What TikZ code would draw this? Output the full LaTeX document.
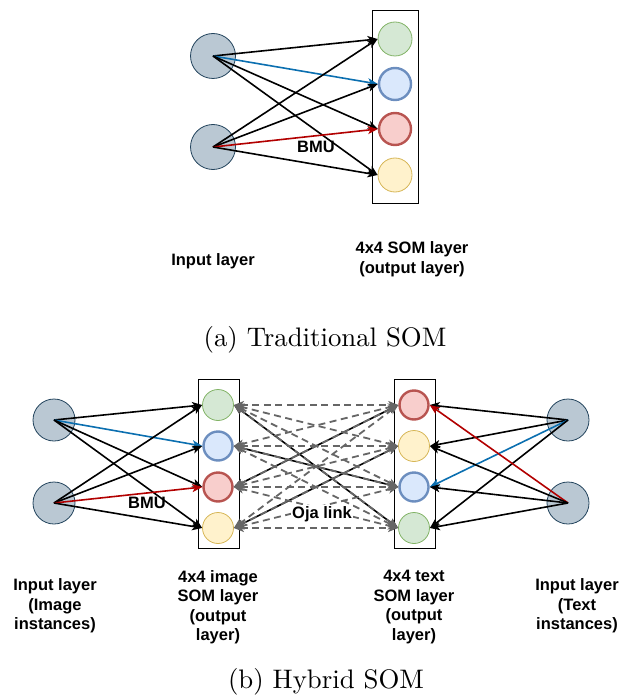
\documentclass[tikz,border=0pt]{standalone}
\usepackage{fontspec}
\newfontfamily\labelfont{Liberation Sans}
\newfontfamily\capfont{lmroman10-regular}[Extension=.otf]
\usetikzlibrary{arrows.meta}

\definecolor{inputfill}{HTML}{BAC8D3}
\definecolor{inputdraw}{HTML}{23445D}
\definecolor{gfill}{HTML}{D5E8D4}
\definecolor{gdraw}{HTML}{82B366}
\definecolor{bfill}{HTML}{DAE8FC}
\definecolor{bdraw}{HTML}{6C8EBF}
\definecolor{rfill}{HTML}{F8CECC}
\definecolor{rdraw}{HTML}{B85450}
\definecolor{yfill}{HTML}{FFF2CC}
\definecolor{ydraw}{HTML}{D6B656}
\definecolor{bluelink}{HTML}{0B6FB0}
\definecolor{redlink}{HTML}{B20000}
\definecolor{ojagray}{HTML}{666666}

\begin{document}
\begin{tikzpicture}[x=1pt,y=-1pt,
  inp/.style={circle, draw=inputdraw, fill=inputfill, line width=0.8pt, inner sep=0pt},
  unitg/.style={circle, draw=gdraw, fill=gfill, line width=0.8pt, inner sep=0pt},
  unitb/.style={circle, draw=bdraw, fill=bfill, line width=2.4pt, inner sep=0pt},
  unitr/.style={circle, draw=rdraw, fill=rfill, line width=2.4pt, inner sep=0pt},
  unity/.style={circle, draw=ydraw, fill=yfill, line width=0.8pt, inner sep=0pt},
  layerbox/.style={draw=black, line width=0.8pt, inner sep=0pt},
  somtip/.tip={Stealth[length=10pt,width=8pt,inset=2.5pt]},
  arr/.style={draw=black, line width=1.6pt, -somtip},
  arrblue/.style={arr, draw=bluelink},
  arrred/.style={arr, draw=redlink},
  crosslink/.style={draw=black, line width=1.6pt, somtip-somtip},
  oja/.style={draw=ojagray, line width=1.8pt, dash pattern=on 7pt off 4.5pt, somtip-somtip},
  lbl/.style={font=\labelfont\bfseries\fontsize{16.5}{19.5}\selectfont, align=center, inner sep=0pt},
  captext/.style={font=\capfont\fontsize{26.8}{30}\selectfont, inner sep=0pt}
]
\useasboundingbox (0,0) rectangle (628,695);

% ---------- (a) Traditional SOM ----------
\node[inp, minimum size=45pt] (a1) at (213,56) {};
\node[inp, minimum size=45pt] (a2) at (213,147) {};
\node[layerbox, minimum width=46pt, minimum height=193pt] (abox) at (395,106.5) {};
\node[unitg, minimum size=34pt] (ag) at (395,39) {};
\node[unitb, minimum size=32pt] (ab) at (395,84) {};
\node[unitr, minimum size=32pt] (ar) at (395,129) {};
\node[unity, minimum size=34pt] (ay) at (395,175) {};

\draw[arr] (a1.center) -- (ag.west);
\draw[arrblue] (a1.center) -- (ab.west);
\draw[arr] (a1.center) -- (ar.west);
\draw[arr] (a1.center) -- (ay.west);
\draw[arr] (a2.center) -- (ag.west);
\draw[arr] (a2.center) -- (ab.west);
\draw[arrred] (a2.center) -- (ar.west);
\draw[arr] (a2.center) -- (ay.west);

\node[lbl] (abmu) at (316,147) {BMU};
\node[lbl] (ain) at (213,261) {Input layer};
\node[lbl] (aout) at (412,259) {4x4 SOM layer\\(output layer)};
\node[captext] (acap) at (325,340) {(a) Traditional SOM};

% ---------- (b) Hybrid SOM ----------
\node[inp, minimum size=42pt] (p1) at (54,420) {};
\node[inp, minimum size=42pt] (p2) at (54,503) {};
\node[inp, minimum size=42pt] (q1) at (568,420) {};
\node[inp, minimum size=42pt] (q2) at (568,503) {};

\node[layerbox, minimum width=41pt, minimum height=169pt] (lbox) at (218.5,463.5) {};
\node[layerbox, minimum width=41pt, minimum height=169pt] (rbox) at (414.5,463.5) {};

\node[unitg, minimum size=31pt] (lg) at (218,405) {};
\node[unitb, minimum size=29pt] (lb) at (218,446) {};
\node[unitr, minimum size=29pt] (lr) at (218,487) {};
\node[unity, minimum size=31pt] (ly) at (218,528) {};

\node[unitr, minimum size=29pt] (rr) at (414,405) {};
\node[unity, minimum size=31pt] (ry) at (414,446) {};
\node[unitb, minimum size=29pt] (rb) at (414,487) {};
\node[unitg, minimum size=31pt] (rg) at (414,528) {};

% image side
\draw[arr] (p1.center) -- (lg.west);
\draw[arrblue] (p1.center) -- (lb.west);
\draw[arr] (p1.center) -- (lr.west);
\draw[arr] (p1.center) -- (ly.west);
\draw[arr] (p2.center) -- (lg.west);
\draw[arr] (p2.center) -- (lb.west);
\draw[arrred] (p2.center) -- (lr.west);
\draw[arr] (p2.center) -- (ly.west);

% text side
\draw[arr] (q1.center) -- (rr.east);
\draw[arr] (q1.center) -- (ry.east);
\draw[arrblue] (q1.center) -- (rb.east);
\draw[arr] (q1.center) -- (rg.east);
\draw[arrred] (q2.center) -- (rr.east);
\draw[arr] (q2.center) -- (ry.east);
\draw[arr] (q2.center) -- (rb.east);
\draw[arr] (q2.center) -- (rg.east);

% matching units across the two maps
\draw[crosslink] (lg.east) -- (rg.west);
\draw[crosslink] (lb.east) -- (rb.west);
\draw[crosslink] (lr.east) -- (rr.west);
\draw[crosslink] (ly.east) -- (ry.west);

% Oja links between every pair of units
\foreach \l in {lg,lb,lr,ly}
  \foreach \r in {rr,ry,rb,rg}
    \draw[oja] (\l.east) -- (\r.west);

\node[lbl] (bbmu) at (147,503) {BMU};
\node[lbl, fill=white, inner sep=1pt] (oja) at (322,514) {Oja link};

\node[lbl] (bin1) at (55,606) {Input layer\\(Image\\instances)};
\node[lbl] (bout1) at (218,607) {4x4 image\\SOM layer\\(output\\layer)};
\node[lbl] (bout2) at (414,607) {4x4 text\\SOM layer\\(output\\layer)};
\node[lbl] (bin2) at (577,606) {Input layer\\(Text\\instances)};
\node[captext] (bcap) at (326,682) {(b) Hybrid SOM};
\end{tikzpicture}
\end{document}
